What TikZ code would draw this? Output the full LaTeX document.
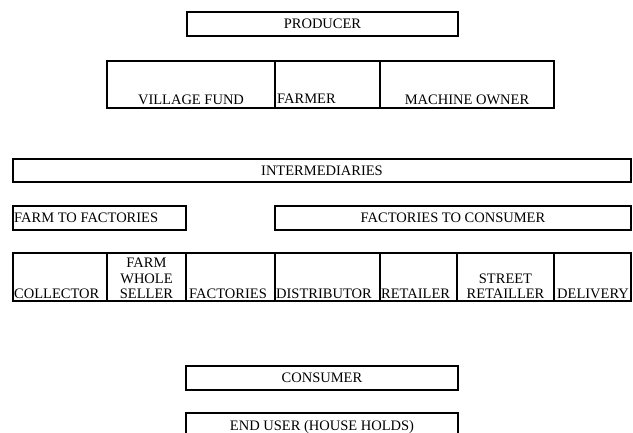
\documentclass[tikz,border=0pt]{standalone}
\usepackage{fontspec}
\setmainfont{Liberation Serif}
\usetikzlibrary{positioning}
\begin{document}
\begin{tikzpicture}[x=1pt,y=-1pt,
  cell/.style={draw,line width=1.5pt,inner sep=0pt,outer sep=0pt,font=\fontsize{14.5}{16}\selectfont},
  thin/.style={minimum height=24pt},
  tall/.style={minimum height=47pt,anchor=north west},
  txt/.style={inner sep=0pt,font=\fontsize{14.5}{15.5}\selectfont,align=center}]
\useasboundingbox (0,0) rectangle (633,433);
\clip (0,0) rectangle (633,433);
% producer side
\node[cell,thin,minimum width=271pt,anchor=north west](producer) at (187,12) {PRODUCER};
\node[cell,tall,minimum width=168pt](vfund) at (107,61) {};
\node[cell,tall,minimum width=105pt,right=0pt of vfund](farmer) {};
\node[cell,tall,minimum width=174pt,right=0pt of farmer](mowner) {};
\node[txt,anchor=south,yshift=3pt](vfundt) at (vfund.south) {VILLAGE FUND};
\node[txt,anchor=south west,xshift=2pt,yshift=4pt](farmert) at (farmer.south west) {FARMER};
\node[txt,anchor=south,yshift=3pt](mownert) at (mowner.south) {MACHINE OWNER};
% intermediaries
\node[cell,minimum width=618pt,minimum height=23pt,anchor=north west](inter) at (13,159) {INTERMEDIARIES};
\node[cell,thin,minimum width=173pt,anchor=north west](f2f) at (13,206) {};
\node[txt,anchor=west,xshift=1pt](f2ft) at (f2f.west) {FARM TO FACTORIES};
\node[cell,thin,minimum width=356pt,anchor=north west](f2c) at (275,206) {FACTORIES TO CONSUMER};
\node[cell,minimum width=94pt,minimum height=48pt,anchor=north west](collector) at (13,253) {};
\node[cell,minimum width=79pt,minimum height=48pt,right=0pt of collector](fwhole) {};
\node[cell,minimum width=89pt,minimum height=48pt,right=0pt of fwhole](factories) {};
\node[cell,minimum width=105pt,minimum height=48pt,right=0pt of factories](distrib) {};
\node[cell,minimum width=77pt,minimum height=48pt,right=0pt of distrib](retailer) {};
\node[cell,minimum width=97pt,minimum height=48pt,right=0pt of retailer](street) {};
\node[cell,minimum width=77pt,minimum height=48pt,right=0pt of street](delivery) {};
\node[txt,anchor=south west,xshift=1pt,yshift=2pt](collectort) at (collector.south west) {COLLECTOR};
\node[txt,anchor=south,yshift=2pt](fwholet) at (fwhole.south) {FARM\\WHOLE\\SELLER};
\node[txt,anchor=south west,xshift=3pt,yshift=2pt](factoriest) at (factories.south west) {FACTORIES};
\node[txt,anchor=south west,xshift=1pt,yshift=2pt](distribt) at (distrib.south west) {DISTRIBUTOR};
\node[txt,anchor=south west,xshift=1pt,yshift=2pt](retailert) at (retailer.south west) {RETAILER};
\node[txt,anchor=south,yshift=2pt](streett) at (street.south) {STREET\\RETAILLER};
\node[txt,anchor=south west,xshift=3pt,yshift=2pt](deliveryt) at (delivery.south west) {DELIVERY};
% consumer side
\node[cell,thin,minimum width=272pt,anchor=north west](consumer) at (186,366) {CONSUMER};
\node[cell,minimum width=272pt,minimum height=28pt,anchor=north west](enduser) at (186,413) {END USER (HOUSE HOLDS)};
\end{tikzpicture}
\end{document}
